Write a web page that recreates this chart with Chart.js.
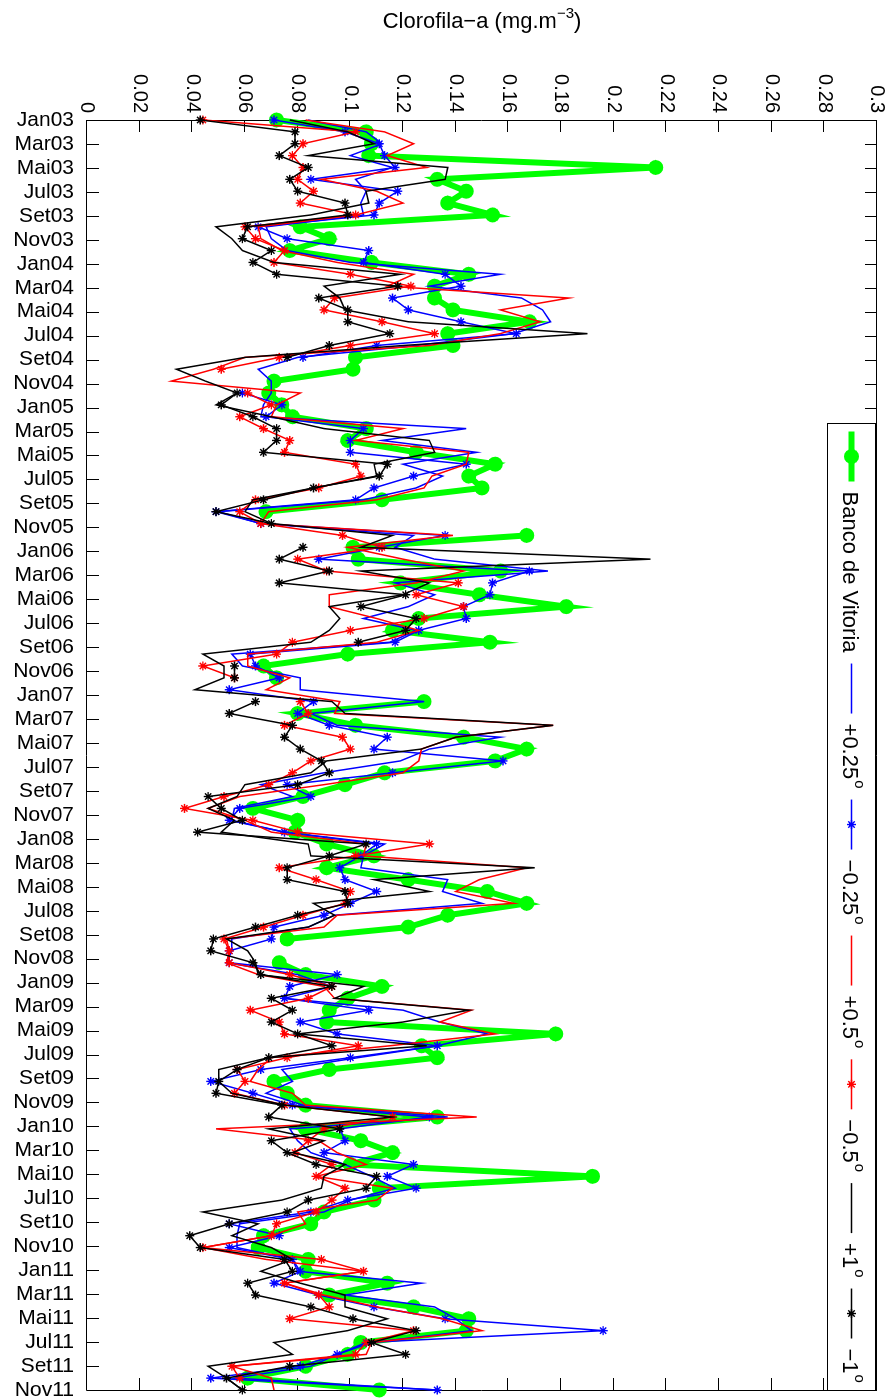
<!DOCTYPE html>
<html lang="pt">
<head>
<meta charset="UTF-8">
<title>Clorofila-a - Banco de Vitoria</title>
<script src="https://cdn.jsdelivr.net/npm/chart.js"></script>
<style>
  html, body { margin: 0; padding: 0; background: #fff; overflow: hidden; }
  #wrap { position: relative; width: 889px; height: 1400px; }
  /* the figure is laid out landscape and turned a quarter clockwise */
  #chl { position: absolute; left: 0; top: 0; transform-origin: 0 0; transform: translate(889px, 0) rotate(90deg); }
</style>
</head>
<body>
<div id="wrap"><canvas id="chl" width="1400" height="889"></canvas></div>
<script>
const FONT = '"Liberation Sans", Arial, Helvetica, sans-serif';

const monthTicks = [
  'Jan03', 'Mar03', 'Mai03', 'Jul03', 'Set03', 'Nov03',
  'Jan04', 'Mar04', 'Mai04', 'Jul04', 'Set04', 'Nov04',
  'Jan05', 'Mar05', 'Mai05', 'Jul05', 'Set05', 'Nov05',
  'Jan06', 'Mar06', 'Mai06', 'Jul06', 'Set06', 'Nov06',
  'Jan07', 'Mar07', 'Mai07', 'Jul07', 'Set07', 'Nov07',
  'Jan08', 'Mar08', 'Mai08', 'Jul08', 'Set08', 'Nov08',
  'Jan09', 'Mar09', 'Mai09', 'Jul09', 'Set09', 'Nov09',
  'Jan10', 'Mar10', 'Mai10', 'Jul10', 'Set10', 'Nov10',
  'Jan11', 'Mar11', 'Mai11', 'Jul11', 'Set11', 'Nov11'
];

// monthly chlorophyll-a (mg/m3), null = no data
const banco = [
  0.072, 0.106, 0.108, 0.107, 0.216, 0.133, 0.144, 0.137, 0.154, 0.081,
  0.092, 0.077, 0.108, 0.145, 0.132, 0.132, 0.139, 0.168, 0.137, 0.139,
  0.102, 0.101, 0.071, 0.069, 0.074, 0.078, 0.106, 0.099, 0.125, 0.155,
  0.145, 0.150, 0.112, 0.068, null, 0.167, 0.101, 0.103, 0.157, 0.119,
  0.149, 0.182, 0.126, 0.116, 0.153, 0.099, 0.067, 0.072, null, 0.128,
  0.080, 0.102, 0.143, 0.167, 0.155, 0.113, 0.098, 0.082, 0.063, 0.080,
  0.079, 0.091, 0.109, 0.091, 0.122, 0.152, 0.167, 0.137, 0.122, 0.076,
  null, 0.073, 0.083, 0.112, 0.099, 0.092, 0.091, 0.178, 0.127, 0.133,
  0.092, 0.071, 0.076, 0.083, 0.133, 0.083, 0.104, 0.116, 0.100, 0.192,
  0.111, 0.109, 0.090, 0.085, 0.067, 0.065, 0.084, 0.083, 0.114, 0.092,
  0.124, 0.145, 0.144, 0.104, 0.099, 0.083, 0.061, 0.111
];
const plus025 = [
  0.084, 0.106, 0.112, 0.100, 0.116, 0.102, 0.106, 0.104, 0.105, 0.068,
  0.070, 0.076, 0.100, 0.157, 0.130, 0.165, 0.173, 0.176, 0.162, 0.125,
  0.080, 0.065, 0.070, 0.070, 0.067, 0.066, 0.144, 0.112, 0.148, 0.120,
  0.135, 0.125, 0.105, 0.050, 0.066, 0.124, 0.117, 0.132, 0.175, 0.117,
  0.132, 0.122, 0.105, 0.125, 0.115, 0.055, 0.059, 0.081, 0.081, 0.128,
  0.085, 0.095, 0.157, 0.130, 0.119, 0.090, 0.066, 0.078, 0.056, 0.055,
  0.075, 0.113, 0.105, 0.104, 0.137, 0.135, 0.150, 0.094, 0.084, 0.055,
  0.055, 0.053, 0.080, 0.093, 0.075, 0.120, 0.134, 0.152, 0.133, 0.103,
  0.074, 0.078, 0.068, 0.082, 0.137, 0.077, 0.080, 0.085, 0.098, 0.108,
  0.117, 0.100, 0.090, 0.058, 0.057, 0.057, 0.078, 0.080, 0.127, 0.098,
  0.132, 0.140, 0.146, 0.108, 0.095, 0.085, 0.056, 0.133
];
const minus025 = [
  0.071, 0.098, 0.111, 0.113, 0.117, 0.085, 0.118, 0.111, 0.109, 0.065,
  0.076, 0.107, 0.105, 0.136, 0.142, 0.116, 0.122, 0.142, 0.163, 0.110,
  0.082, null, null, 0.059, 0.074, 0.068, 0.105, 0.100, 0.100, 0.144,
  0.124, 0.109, 0.102, 0.049, 0.066, 0.136, 0.111, 0.088, 0.168, 0.154,
  0.153, 0.143, 0.144, 0.126, 0.117, 0.062, 0.064, 0.073, 0.054, 0.086,
  0.080, 0.092, 0.114, 0.109, 0.158, 0.116, 0.076, 0.085, 0.058, 0.054,
  0.075, 0.110, 0.104, 0.096, 0.098, 0.110, 0.100, 0.090, 0.071, 0.070,
  0.054, 0.054, 0.095, 0.077, 0.075, 0.107, 0.081, 0.095, 0.133, 0.100,
  0.066, 0.047, 0.063, 0.078, 0.130, 0.096, 0.098, 0.090, 0.124, 0.114,
  0.125, 0.099, 0.085, 0.054, 0.073, 0.054, 0.078, 0.081, 0.071, 0.088,
  0.109, 0.136, 0.196, 0.106, 0.095, 0.081, 0.047, 0.133
];
const plus05 = [
  0.083, 0.113, 0.124, 0.114, 0.129, 0.089, 0.110, 0.120, 0.102, 0.065,
  0.066, 0.074, 0.095, 0.124, 0.114, 0.183, 0.157, 0.172, 0.157, 0.130,
  0.060, 0.048, 0.032, 0.081, 0.072, 0.070, 0.120, 0.102, 0.145, 0.144,
  0.131, 0.128, 0.110, 0.069, 0.066, 0.139, 0.099, 0.120, 0.143, 0.125,
  0.092, 0.092, 0.110, 0.126, 0.110, 0.061, 0.061, 0.077, 0.068, 0.096,
  0.094, 0.177, 0.140, 0.127, 0.126, 0.120, 0.090, 0.058, 0.046, 0.060,
  0.070, 0.106, 0.105, 0.167, 0.149, 0.140, 0.162, 0.095, 0.090, 0.053,
  0.054, 0.053, 0.065, 0.090, 0.094, 0.146, 0.134, 0.155, 0.115, 0.070,
  0.065, 0.062, 0.078, 0.083, 0.148, 0.049, 0.088, 0.095, 0.106, 0.087,
  0.116, 0.110, 0.080, 0.083, 0.070, 0.044, 0.068, 0.105, 0.075, 0.090,
  0.110, 0.135, 0.150, 0.108, 0.106, 0.055, 0.070, 0.071
];
const minus05 = [
  0.044, 0.102, 0.082, 0.078, 0.082, 0.080, 0.086, 0.081, 0.102, 0.060,
  0.064, 0.075, 0.071, 0.100, 0.123, 0.094, 0.090, 0.112, 0.132, 0.100,
  0.073, 0.051, null, 0.061, 0.070, 0.058, 0.067, 0.077, 0.075, 0.102,
  0.104, 0.088, 0.064, 0.058, 0.066, 0.097, 0.112, 0.080, 0.091, 0.141,
  0.125, 0.143, 0.128, 0.100, 0.078, 0.072, 0.044, 0.056, null, 0.081,
  0.084, 0.075, 0.097, 0.100, 0.085, 0.078, 0.069, 0.052, 0.037, 0.063,
  0.080, 0.130, 0.102, 0.073, 0.087, 0.100, 0.098, 0.082, 0.067, 0.052,
  0.054, 0.054, 0.077, 0.093, 0.084, 0.062, 0.073, 0.075, 0.103, 0.076,
  0.057, 0.060, 0.056, 0.075, 0.116, 0.090, 0.084, 0.079, 0.093, 0.087,
  0.098, 0.093, 0.087, 0.072, 0.070, 0.044, 0.089, 0.105, 0.075, 0.088,
  0.092, 0.077, 0.124, 0.106, 0.102, 0.055, 0.058, null
];
const plus1 = [
  0.077, 0.099, 0.109, 0.084, 0.137, 0.136, 0.106, 0.107, 0.085, 0.049,
  0.055, 0.059, 0.071, 0.119, 0.090, 0.096, 0.098, 0.122, 0.190, 0.120,
  0.060, 0.034, 0.045, 0.057, 0.049, 0.070, 0.090, 0.130, 0.132, 0.109,
  0.110, 0.086, 0.063, 0.060, 0.070, 0.116, 0.104, 0.214, 0.104, 0.130,
  0.120, 0.092, 0.096, 0.092, 0.085, 0.044, 0.052, 0.052, 0.041, 0.093,
  0.098, 0.177, 0.140, 0.127, 0.091, 0.085, 0.060, 0.057, 0.046, 0.056,
  0.051, 0.084, 0.085, 0.170, 0.109, 0.130, 0.086, 0.094, 0.084, 0.053,
  0.061, 0.064, 0.065, 0.105, 0.094, 0.145, 0.120, 0.080, 0.129, 0.069,
  0.050, 0.050, 0.055, 0.075, 0.116, 0.069, 0.090, 0.078, 0.098, 0.090,
  0.089, 0.074, 0.044, 0.065, 0.055, 0.070, 0.078, 0.066, 0.081, 0.098,
  0.098, 0.114, 0.099, 0.071, 0.078, 0.046, 0.053, 0.059
];
const minus1 = [
  0.043, 0.079, 0.079, 0.073, 0.084, 0.077, 0.080, 0.098, 0.099, 0.061,
  0.059, 0.070, 0.063, 0.072, 0.118, 0.088, 0.099, 0.099, 0.115, 0.092,
  0.076, null, null, 0.057, 0.051, 0.063, 0.072, 0.072, 0.067, 0.114,
  0.111, 0.086, 0.067, 0.049, 0.070, null, 0.082, 0.073, 0.092, 0.073,
  0.121, 0.104, 0.125, 0.121, 0.103, null, 0.056, 0.056, null, 0.064,
  0.054, 0.078, 0.075, 0.081, 0.089, 0.092, 0.080, 0.046, 0.051, 0.059,
  0.042, 0.106, 0.092, 0.076, 0.076, 0.098, 0.099, 0.080, 0.064, 0.048,
  0.047, 0.063, 0.066, 0.093, 0.070, 0.078, 0.070, 0.080, 0.093, 0.069,
  0.057, 0.050, 0.049, 0.074, 0.069, 0.096, 0.070, 0.076, 0.087, 0.110,
  0.106, 0.084, 0.076, 0.054, 0.039, 0.043, 0.075, 0.078, 0.061, 0.064,
  0.085, 0.101, 0.125, 0.108, 0.121, 0.077, 0.053, 0.059
];

const series = [
  { label: 'Banco de Vitoria', data: banco,   color: '#00ff00', width: 6,   point: 'circle', radius: 7.5 },
  { label: '+0.25°',           data: plus025, color: '#0000ff', width: 1.5 },
  { label: '−0.25°',           data: minus025, color: '#0000ff', width: 1.5, point: 'star', radius: 4.5 },
  { label: '+0.5°',            data: plus05,  color: '#ff0000', width: 1.5 },
  { label: '−0.5°',            data: minus05, color: '#ff0000', width: 1.5, point: 'star', radius: 4.5 },
  { label: '+1°',              data: plus1,   color: '#000000', width: 1.5 },
  { label: '−1°',              data: minus1,  color: '#000000', width: 1.5, point: 'star', radius: 4.5 }
];

const lastIndex = banco.length - 1;

// box with inward tick marks on all four sides
const axesBox = {
  id: 'axesBox',
  beforeDatasetsDraw(chart) {
    const { ctx, chartArea: a, scales: { x, y } } = chart;
    const len = 12;
    ctx.save();
    ctx.strokeStyle = '#000';
    ctx.lineWidth = 1;
    ctx.beginPath();
    ctx.rect(Math.round(a.left) + 0.5, Math.round(a.top) + 0.5,
             Math.round(a.right - a.left), Math.round(a.bottom - a.top));
    x.ticks.forEach(t => {
      const p = Math.round(x.getPixelForValue(t.value)) + 0.5;
      ctx.moveTo(p, a.bottom); ctx.lineTo(p, a.bottom - len);
      ctx.moveTo(p, a.top);    ctx.lineTo(p, a.top + len);
    });
    y.ticks.forEach(t => {
      const p = Math.round(y.getPixelForValue(t.value)) + 0.5;
      ctx.moveTo(a.left, p);  ctx.lineTo(a.left + len, p);
      ctx.moveTo(a.right, p); ctx.lineTo(a.right - len, p);
    });
    ctx.stroke();
    ctx.restore();
  }
};

// draws text where a trailing ° is set as a raised small "o"
function drawLabel(ctx, text, x, y, size) {
  const deg = text.endsWith('°');
  const main = deg ? text.slice(0, -1) : text;
  ctx.font = size + 'px ' + FONT;
  ctx.fillText(main, x, y);
  let w = ctx.measureText(main).width;
  if (deg) {
    ctx.font = Math.round(size * 0.7) + 'px ' + FONT;
    ctx.fillText('o', x + w + 1, y - size * 0.42);
    w += ctx.measureText('o').width + 1;
  }
  return w;
}
function labelWidth(ctx, text, size) {
  ctx.save();
  ctx.globalAlpha = 0;
  const w = drawLabel(ctx, text, 0, 0, size);
  ctx.restore();
  return w;
}

// horizontal legend in the upper right corner of the plot
const legendBox = {
  id: 'legendBox',
  afterDraw(chart) {
    const { ctx, chartArea: a } = chart;
    const size = 22, sample = 50, gapIn = 10, gapOut = 11, pad = 8, h = 48;
    const items = chart.data.datasets.map(ds => ({ ds, w: labelWidth(ctx, ds.label, size) }));
    const width = pad * 2 + items.reduce((s, it) => s + sample + gapIn + it.w, 0) + gapOut * (items.length - 1);
    const right = Math.round(a.right) + 0.5, top = Math.round(a.top) + 1.5;
    const left = Math.round(right - width) + 0.5;
    ctx.save();
    ctx.fillStyle = '#fff';
    ctx.fillRect(left, top, right - left, h);
    ctx.strokeStyle = '#000';
    ctx.lineWidth = 1;
    ctx.strokeRect(left, top, right - left, h);
    const cy = top + h / 2;
    let x = left + pad;
    items.forEach(({ ds, w }) => {
      ctx.strokeStyle = ds.borderColor;
      ctx.lineWidth = ds.borderWidth;
      ctx.beginPath();
      ctx.moveTo(x, cy); ctx.lineTo(x + sample, cy);
      ctx.stroke();
      if (ds.pointStyle) {
        ctx.fillStyle = ds.backgroundColor;
        ctx.strokeStyle = ds.borderColor;
        ctx.lineWidth = ds.pointBorderWidth;
        Chart.helpers.drawPoint(ctx, {
          pointStyle: ds.pointStyle, radius: ds.pointRadius,
          borderWidth: ds.pointBorderWidth, rotation: 0
        }, x + sample / 2, cy);
      }
      x += sample + gapIn;
      ctx.fillStyle = '#000';
      ctx.textBaseline = 'middle';
      ctx.textAlign = 'left';
      drawLabel(ctx, ds.label, x, cy + 2, size);
      x += w + gapOut;
    });
    ctx.restore();
  }
};

// value axis title with a superscript exponent
const axisTitle = {
  id: 'axisTitle',
  afterDraw(chart) {
    const { ctx, chartArea: a } = chart;
    const size = 22;
    const parts = [['Clorofila−a (mg.m', size, 0], ['−3', Math.round(size * 0.7), -size * 0.45], [')', size, 0]];
    ctx.save();
    ctx.translate(28, (a.top + a.bottom) / 2);
    ctx.rotate(-Math.PI / 2);
    ctx.fillStyle = '#000';
    ctx.textBaseline = 'alphabetic';
    const widths = parts.map(([t, s]) => { ctx.font = s + 'px ' + FONT; return ctx.measureText(t).width; });
    let x = -widths.reduce((p, c) => p + c, 0) / 2;
    parts.forEach(([t, s, dy], i) => {
      ctx.font = s + 'px ' + FONT;
      ctx.fillText(t, x, dy);
      x += widths[i];
    });
    ctx.restore();
  }
};

new Chart(document.getElementById('chl'), {
  type: 'line',
  data: {
    datasets: series.map((s, i) => ({
      label: s.label,
      data: s.data.map((v, k) => ({ x: k, y: v })),
      borderColor: s.color,
      backgroundColor: s.color,
      borderWidth: s.width,
      pointStyle: s.point || false,
      pointRadius: s.point ? s.radius : 0,
      pointBorderWidth: s.point === 'circle' ? 0 : 1.4,
      spanGaps: false,
      tension: 0,
      clip: false,
      order: series.length - i
    }))
  },
  options: {
    responsive: false,
    animation: false,
    events: [],
    layout: { padding: { top: 12, right: 10, left: 0, bottom: 0 } },
    plugins: { legend: { display: false }, tooltip: { enabled: false } },
    scales: {
      x: {
        type: 'linear',
        min: 0,
        max: lastIndex,
        afterBuildTicks: s => {
          s.ticks = monthTicks.map((_, j) => ({ value: j * lastIndex / (monthTicks.length - 1) }));
        },
        afterFit: s => { s.height = 87; s.paddingLeft = 0; s.paddingRight = 0; },
        grid: { display: false, drawTicks: false },
        border: { display: false },
        ticks: {
          autoSkip: false, maxRotation: 90, minRotation: 90, padding: 13,
          color: '#000', font: { family: FONT, size: 21 },
          callback: (v, i) => monthTicks[i]
        }
      },
      y: {
        min: 0,
        max: 0.3,
        afterFit: s => { s.width = 120; s.paddingTop = 0; s.paddingBottom = 0; },
        grid: { display: false, drawTicks: false },
        border: { display: false },
        ticks: {
          stepSize: 0.02, padding: 7, color: '#000', font: { family: FONT, size: 20 },
          callback: v => String(+v.toFixed(2))
        }
      }
    }
  },
  plugins: [axesBox, legendBox, axisTitle]
});
</script>
</body>
</html>
